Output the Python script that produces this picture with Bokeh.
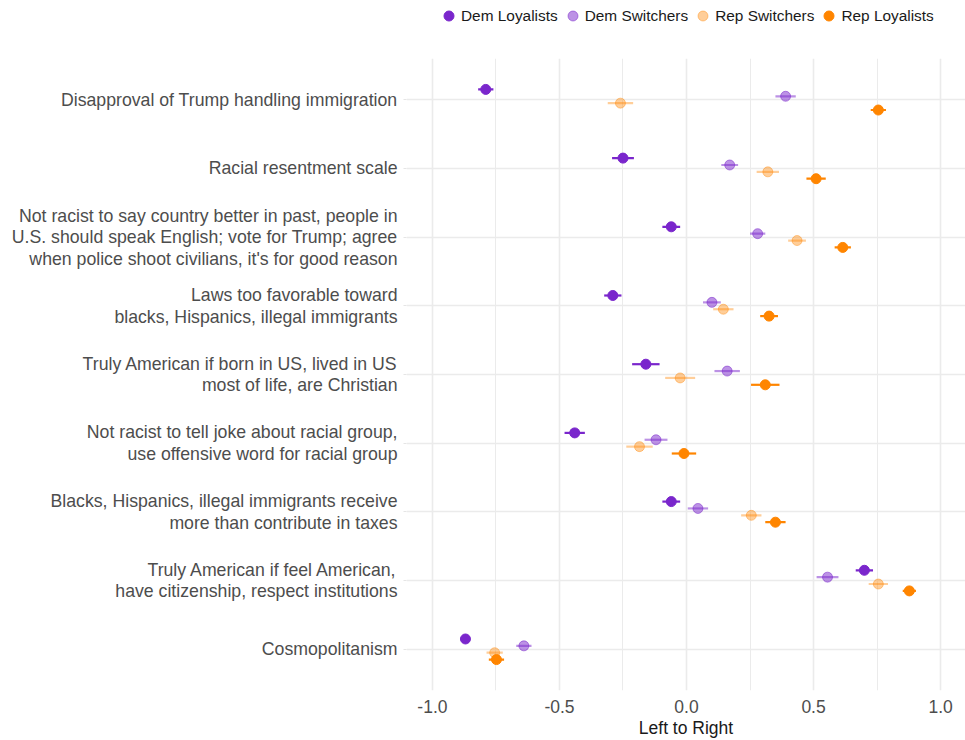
from bokeh.plotting import figure
from bokeh.layouts import column
from bokeh.models import Range1d, FixedTicker, Legend, LegendItem, ColumnDataSource
from bokeh.embed import file_html
from bokeh.resources import INLINE

categories = [
    "Disapproval of Trump handling immigration",
    "Racial resentment scale",
    "Not racist to say country better in past, people in\nU.S. should speak English; vote for Trump; agree\nwhen police shoot civilians, it's for good reason",
    "Laws too favorable toward\nblacks, Hispanics, illegal immigrants",
    "Truly American if born in US, lived in US\nmost of life, are Christian",
    "Not racist to tell joke about racial group,\nuse offensive word for racial group",
    "Blacks, Hispanics, illegal immigrants receive\nmore than contribute in taxes",
    "Truly American if feel American,\nhave citizenship, respect institutions",
    "Cosmopolitanism",
]
groups = ["Dem Loyalists", "Dem Switchers", "Rep Switchers", "Rep Loyalists"]

dem_loyalists = [-0.79, -0.25, -0.06, -0.29, -0.16, -0.44, -0.06, 0.70, -0.87]
dem_loyalists_err = [0.03, 0.043, 0.035, 0.034, 0.054, 0.04, 0.035, 0.034, 0.015]
dem_switchers = [0.39, 0.17, 0.28, 0.10, 0.16, -0.12, 0.045, 0.555, -0.64]
dem_switchers_err = [0.04, 0.033, 0.03, 0.035, 0.05, 0.045, 0.04, 0.043, 0.03]
rep_switchers = [-0.26, 0.32, 0.435, 0.145, -0.025, -0.185, 0.255, 0.755, -0.755]
rep_switchers_err = [0.05, 0.044, 0.035, 0.04, 0.059, 0.052, 0.04, 0.038, 0.032]
rep_loyalists = [0.755, 0.51, 0.615, 0.325, 0.31, -0.01, 0.35, 0.877, -0.748]
rep_loyalists_err = [0.03, 0.038, 0.032, 0.035, 0.056, 0.048, 0.04, 0.026, 0.03]

x_ticks = [-1.0, -0.5, 0.0, 0.5, 1.0]
x_tick_labels = ["-1.0", "-0.5", "0.0", "0.5", "1.0"]
x_minor_ticks = [-0.75, -0.25, 0.25, 0.75]
x_title = "Left to Right"

means = [dem_loyalists, dem_switchers, rep_switchers, rep_loyalists]
errs = [dem_loyalists_err, dem_switchers_err, rep_switchers_err, rep_loyalists_err]
colors = ["#7a26cc", "#7a26cc", "#ff8500", "#ff8500"]
alphas = [1.0, 0.5, 0.4, 1.0]
offsets = [0.15, 0.05, -0.05, -0.15]

FONT = "Liberation Sans"
n = len(categories)
cat_pos = [n - i for i in range(n)]

W = 965
LEG_H = 50
MAIN_H = 690

# ---- legend strip ----
lg = figure(width=W, height=LEG_H, output_backend="svg", toolbar_location=None,
            x_axis_type=None, y_axis_type=None, x_range=Range1d(0, 1), y_range=Range1d(0, 1),
            min_border_left=0, min_border_right=0, min_border_top=0, min_border_bottom=0)
lg.outline_line_color = None
lg.xgrid.visible = False
lg.ygrid.visible = False

items = []
for g, c, a in zip(groups, colors, alphas):
    # one dummy point outside the visible range so the legend glyph has data
    r = lg.scatter(x=[-10], y=[-10], size=10, fill_color=c, line_color=c,
                   fill_alpha=a, line_alpha=a)
    items.append(LegendItem(label=g, renderers=[r]))

legend = Legend(items=items, orientation="horizontal", location=(30, 22))
legend.label_text_font = FONT
legend.label_text_font_size = "15.4px"
legend.label_text_color = "#1a1a1a"
legend.glyph_width = 25
legend.glyph_height = 25
legend.label_standoff = 0
legend.spacing = 2
legend.padding = 0
legend.margin = 0
legend.border_line_color = None
legend.background_fill_alpha = 0
lg.add_layout(legend, "center")

# ---- main plot ----
p = figure(width=W, height=MAIN_H, output_backend="svg", toolbar_location=None,
           x_range=Range1d(-1.102, 1.098), y_range=Range1d(0.4, 9.6),
           min_border_left=406, min_border_right=0, min_border_top=8, min_border_bottom=50)
p.outline_line_color = None
p.background_fill_color = "white"

for g, m, e, c, a, off in zip(groups, means, errs, colors, alphas, offsets):
    ys = [cp + off for cp in cat_pos]
    src = ColumnDataSource(dict(x=m, y=ys, lo=[mm - ee for mm, ee in zip(m, e)],
                                hi=[mm + ee for mm, ee in zip(m, e)]))
    p.segment(x0="lo", x1="hi", y0="y", y1="y", source=src, line_color=c,
              line_alpha=a, line_width=2.2)
    p.scatter(x="x", y="y", source=src, size=10, fill_color=c, line_color=c,
              fill_alpha=a, line_alpha=a)

# x axis
xa = p.xaxis[0]
xa.ticker = FixedTicker(ticks=x_ticks, minor_ticks=x_minor_ticks)
xa.major_label_overrides = {t: l for t, l in zip(x_ticks, x_tick_labels)}
xa.axis_line_color = None
xa.major_tick_line_color = None
xa.minor_tick_line_color = None
xa.major_tick_out = 0
xa.major_tick_in = 0
xa.minor_tick_out = 0
xa.minor_tick_in = 0
xa.major_label_text_font = FONT
xa.major_label_text_font_size = "17.5px"
xa.major_label_text_color = "#4d4d4d"
xa.major_label_standoff = 9
xa.axis_label = x_title
xa.axis_label_text_font = FONT
xa.axis_label_text_font_size = "17.5px"
xa.axis_label_text_font_style = "normal"
xa.axis_label_text_color = "#1a1a1a"
xa.axis_label_standoff = 2

# y axis
ya = p.yaxis[0]
ya.ticker = FixedTicker(ticks=cat_pos)
ya.major_label_overrides = {cp: lab for cp, lab in zip(cat_pos, categories)}
ya.axis_line_color = None
ya.major_tick_line_color = "#e5e5e5"
ya.major_tick_out = 3
ya.major_tick_in = 0
ya.minor_tick_line_color = None
ya.major_label_text_font = FONT
ya.major_label_text_font_size = "17.7px"
ya.major_label_text_line_height = 1.07
ya.major_label_text_color = "#4d4d4d"
ya.major_label_standoff = 6

p.xgrid.grid_line_color = "#ebebeb"
p.xgrid.grid_line_width = 1.6
p.xgrid.minor_grid_line_color = "#ebebeb"
p.xgrid.minor_grid_line_width = 1.0
p.ygrid.grid_line_color = "#ebebeb"
p.ygrid.grid_line_width = 1.6

layout = column(lg, p, spacing=0)
open("out.html", "w").write(file_html(layout, INLINE))
